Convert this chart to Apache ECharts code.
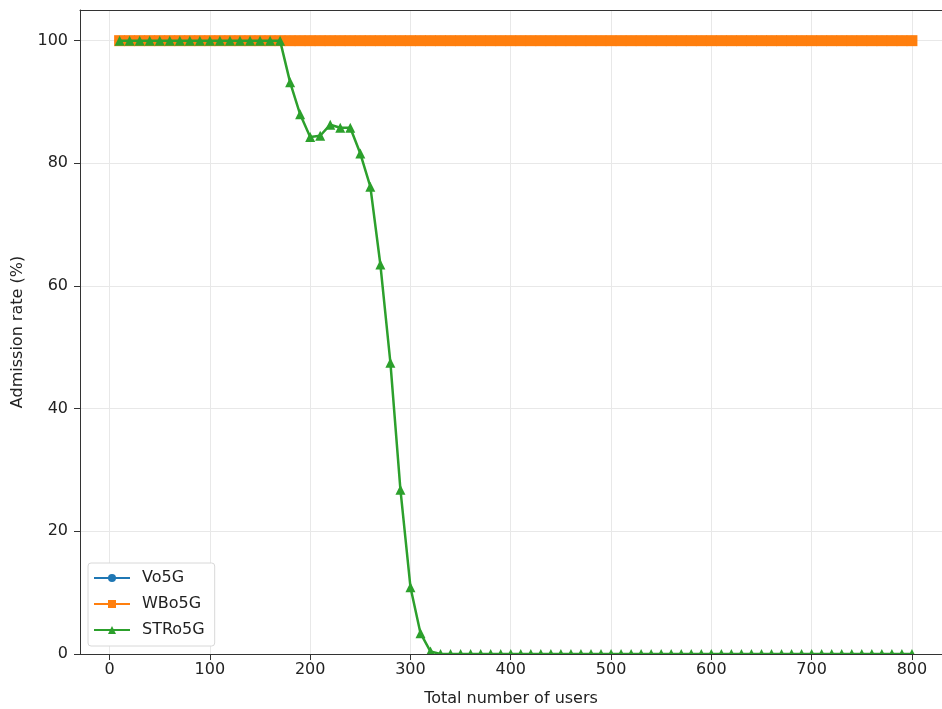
<!DOCTYPE html>
<html>
<head>
<meta charset="utf-8">
<script src="https://cdn.jsdelivr.net/npm/echarts@6/dist/echarts.min.js"></script>
<style>html,body{margin:0;padding:0;background:#fff}#c{width:942px;height:709px}</style>
</head>
<body>
<div id="c"></div>
<script>
var users = [10,20,30,40,50,60,70,80,90,100,110,120,130,140,150,160,170,180,190,200,210,220,230,240,250,260,270,280,290,300,310,320,330,340,350,360,370,380,390,400,410,420,430,440,450,460,470,480,490,500,510,520,530,540,550,560,570,580,590,600,610,620,630,640,650,660,670,680,690,700,710,720,730,740,750,760,770,780,790,800];
var vo5g = [100,100,100,100,100,100,100,100,100,100,100,100,100,100,100,100,100,100,100,100,100,100,100,100,100,100,100,100,100,100,100,100,100,100,100,100,100,100,100,100,100,100,100,100,100,100,100,100,100,100,100,100,100,100,100,100,100,100,100,100,100,100,100,100,100,100,100,100,100,100,100,100,100,100,100,100,100,100,100,100];
var wbo5g = [100,100,100,100,100,100,100,100,100,100,100,100,100,100,100,100,100,100,100,100,100,100,100,100,100,100,100,100,100,100,100,100,100,100,100,100,100,100,100,100,100,100,100,100,100,100,100,100,100,100,100,100,100,100,100,100,100,100,100,100,100,100,100,100,100,100,100,100,100,100,100,100,100,100,100,100,100,100,100,100];
var stro5g = [100,100,100,100,100,100,100,100,100,100,100,100,100,100,100,100,100,93.2,88.0,84.3,84.5,86.3,85.8,85.8,81.6,76.2,63.5,47.5,26.8,10.9,3.4,0.4,0,0,0,0,0,0,0,0,0,0,0,0,0,0,0,0,0,0,0,0,0,0,0,0,0,0,0,0,0,0,0,0,0,0,0,0,0,0,0,0,0,0,0,0,0,0,0,0];
var xTicks = [0,100,200,300,400,500,600,700,800];
var seriesNames = ['Vo5G','WBo5G','STRo5G'];

function pairs(ys){ return users.map(function(x,i){ return [x, ys[i]]; }); }

var chart = echarts.init(document.getElementById('c'), null, {renderer:'canvas'});
var font = 'DejaVu Sans';
var axisColor = '#333';
var textColor = '#222';
var gridColor = '#e8e8e8';
var xMin = -29.5, xMax = 830;
chart.setOption({
  animation:false,
  backgroundColor:'#fff',
  textStyle:{fontFamily:font},
  grid:{left:80, right:0, top:10, bottom:55, show:false, outerBoundsMode:'none', containLabel:false},
  graphic:[{
    type:'rect', z:30, silent:true,
    shape:{x:0, y:655, width:942, height:60},
    style:{fill:'#fff'}
  }],
  legend:{
    orient:'vertical', left:88, top:563, z:50,
    data:seriesNames,
    itemWidth:36, itemHeight:10, itemGap:10,
    padding:[7,10,8,5],
    backgroundColor:'#fff', borderColor:'#d8d8d8', borderWidth:1, borderRadius:3,
    textStyle:{fontFamily:font, fontSize:16, lineHeight:16, color:textColor, padding:[0,0,0,7]}
  },
  xAxis:[{
    // grid lines only (under the series)
    type:'value', min:xMin, max:xMax, z:0,
    axisLine:{show:false}, axisTick:{show:false, customValues:xTicks},
    axisLabel:{show:false, customValues:xTicks},
    splitLine:{show:true, lineStyle:{color:gridColor, width:1}}
  },{
    // visible bottom axis (above the mask)
    type:'value', min:xMin, max:xMax, position:'bottom', z:40,
    name:'Total number of users', nameLocation:'middle', nameGap:37,
    nameTextStyle:{fontFamily:font, fontSize:16, color:textColor},
    axisLine:{show:true, onZero:false, lineStyle:{color:axisColor}},
    axisTick:{show:true, customValues:xTicks, length:6, lineStyle:{color:axisColor}},
    axisLabel:{customValues:xTicks, fontFamily:font, fontSize:16, color:textColor, margin:8},
    splitLine:{show:false}
  },{
    // top spine
    type:'value', min:xMin, max:xMax, position:'top', z:40,
    axisLine:{show:true, onZero:false, lineStyle:{color:axisColor}},
    axisTick:{show:false}, axisLabel:{show:false}, splitLine:{show:false}
  }],
  yAxis:[{
    type:'value', min:0, max:105, interval:20, z:0,
    axisLine:{show:false}, axisTick:{show:false}, axisLabel:{show:false},
    splitLine:{show:true, lineStyle:{color:gridColor, width:1}}
  },{
    type:'value', min:0, max:105, interval:20, position:'left', z:40,
    name:'Admission rate (%)', nameLocation:'middle', nameGap:54,
    nameTextStyle:{fontFamily:font, fontSize:16, color:textColor},
    axisLine:{show:true, onZero:false, lineStyle:{color:axisColor}},
    axisTick:{show:true, length:6, lineStyle:{color:axisColor}},
    axisLabel:{fontFamily:font, fontSize:16, color:textColor, margin:12, showMaxLabel:false},
    splitLine:{show:false}
  }],
  series:[
    {name:seriesNames[0], type:'line', data:pairs(vo5g), symbol:'circle', symbolSize:10, showAllSymbol:true, itemStyle:{color:'#1f77b4', borderWidth:0}, lineStyle:{width:2.5, color:'#1f77b4'}, z:2},
    {name:seriesNames[1], type:'line', data:pairs(wbo5g), symbol:'rect', symbolSize:11, showAllSymbol:true, itemStyle:{color:'#ff7f0e', borderWidth:0}, lineStyle:{width:2.5, color:'#ff7f0e'}, z:3},
    {name:seriesNames[2], type:'line', data:pairs(stro5g), symbol:'triangle', symbolSize:10, showAllSymbol:true, itemStyle:{color:'#2ca02c', borderWidth:0}, lineStyle:{width:2.5, color:'#2ca02c'}, z:4}
  ]
});
</script>
</body>
</html>
